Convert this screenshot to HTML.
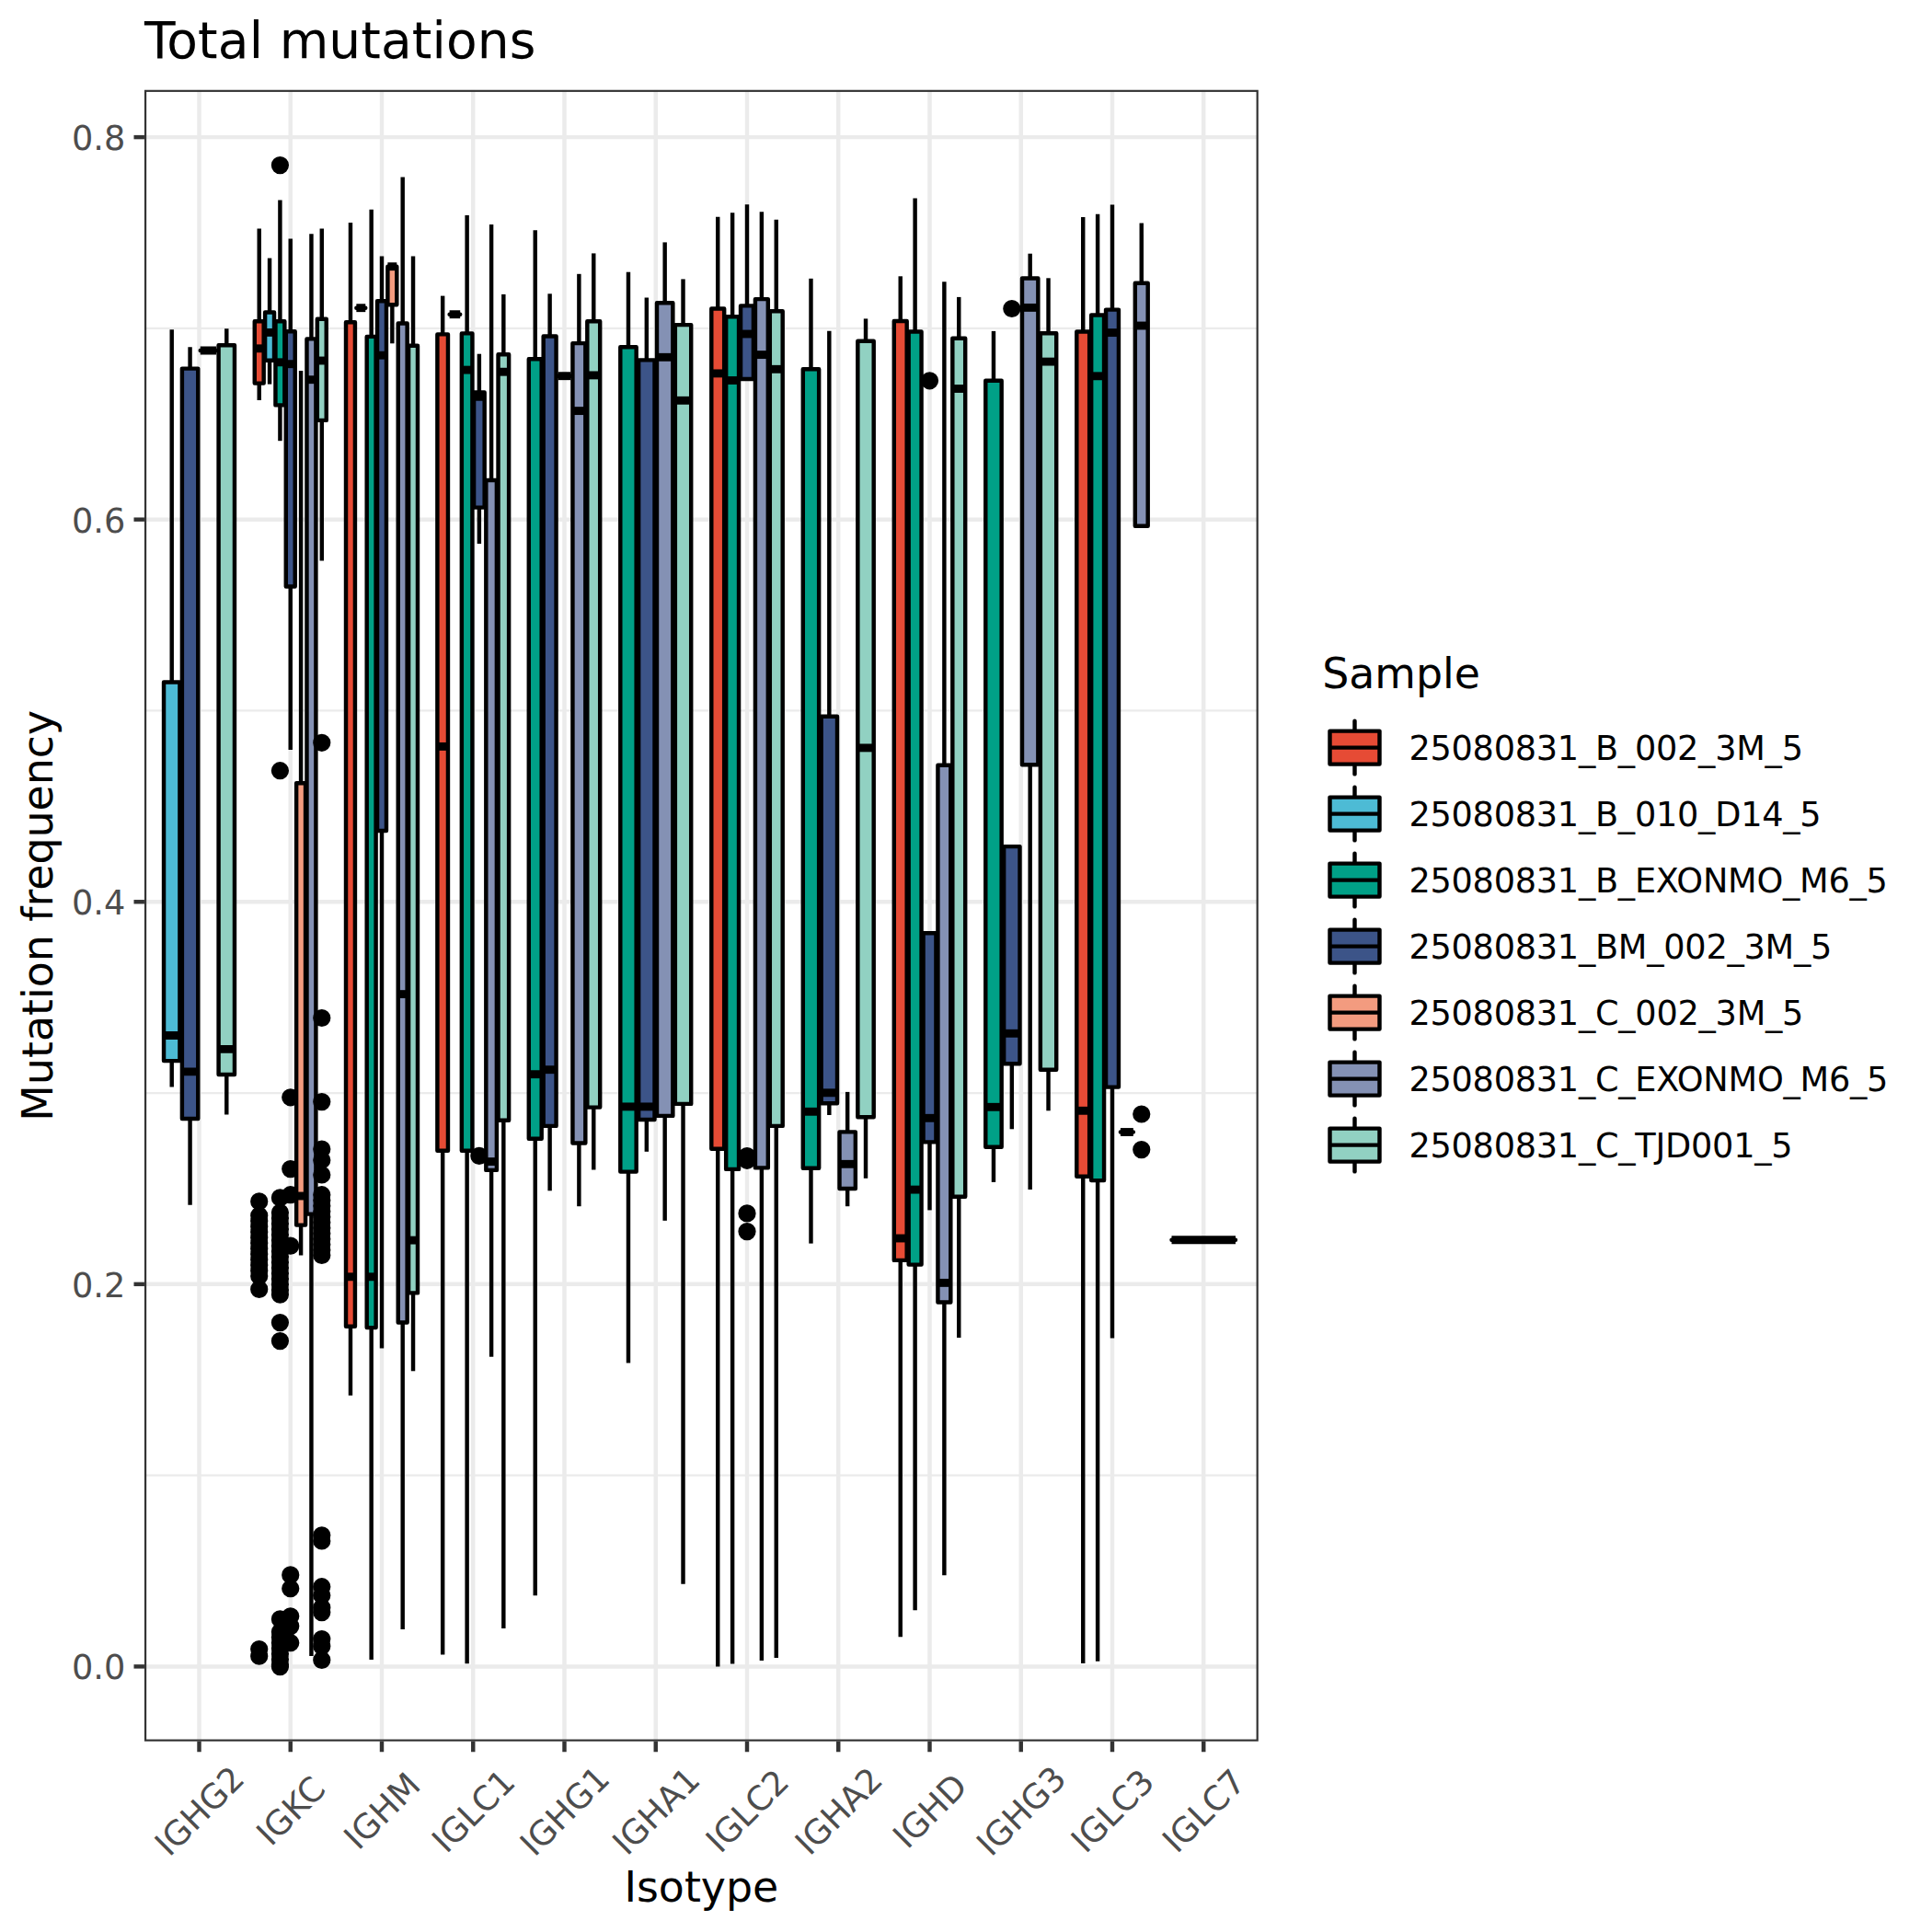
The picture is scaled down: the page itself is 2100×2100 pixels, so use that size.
<!DOCTYPE html>
<html lang="en"><head><meta charset="utf-8"><title>Total mutations</title>
<style>html,body{margin:0;padding:0;background:#fff}svg{display:block}text{font-family:"DejaVu Sans","Liberation Sans",sans-serif}</style></head><body>
<svg width="2100" height="2100" viewBox="0 0 2100 2100">
<rect width="2100" height="2100" fill="#fff"/>
<defs><clipPath id="pc"><rect x="156.95" y="97.7" width="1210.85" height="1795.1"/></clipPath></defs>
<g clip-path="url(#pc)">
<g stroke="#EBEBEB" stroke-width="2.22">
<line x1="156.95" x2="1367.8" y1="1603.63" y2="1603.63"/>
<line x1="156.95" x2="1367.8" y1="1188.05" y2="1188.05"/>
<line x1="156.95" x2="1367.8" y1="772.47" y2="772.47"/>
<line x1="156.95" x2="1367.8" y1="356.89" y2="356.89"/>
</g>
<g stroke="#EBEBEB" stroke-width="4.44">
<line x1="156.95" x2="1367.8" y1="1811.42" y2="1811.42"/>
<line x1="156.95" x2="1367.8" y1="1395.84" y2="1395.84"/>
<line x1="156.95" x2="1367.8" y1="980.26" y2="980.26"/>
<line x1="156.95" x2="1367.8" y1="564.68" y2="564.68"/>
<line x1="156.95" x2="1367.8" y1="149.1" y2="149.1"/>
<line x1="216.5" x2="216.5" y1="97.7" y2="1892.8"/>
<line x1="315.75" x2="315.75" y1="97.7" y2="1892.8"/>
<line x1="415" x2="415" y1="97.7" y2="1892.8"/>
<line x1="514.25" x2="514.25" y1="97.7" y2="1892.8"/>
<line x1="613.5" x2="613.5" y1="97.7" y2="1892.8"/>
<line x1="712.75" x2="712.75" y1="97.7" y2="1892.8"/>
<line x1="812" x2="812" y1="97.7" y2="1892.8"/>
<line x1="911.25" x2="911.25" y1="97.7" y2="1892.8"/>
<line x1="1010.5" x2="1010.5" y1="97.7" y2="1892.8"/>
<line x1="1109.75" x2="1109.75" y1="97.7" y2="1892.8"/>
<line x1="1209" x2="1209" y1="97.7" y2="1892.8"/>
<line x1="1308.25" x2="1308.25" y1="97.7" y2="1892.8"/>
</g>
<g transform="translate(0 0.3)" stroke="#000" stroke-width="4.44" stroke-linejoin="round" stroke-linecap="butt">
<g>
<line x1="186.72" x2="186.72" y1="357.9" y2="741.2"/>
<line x1="186.72" x2="186.72" y1="1152.8" y2="1181.1"/>
<rect x="178.04" y="741.2" width="17.37" height="411.6" fill="#4DBBD5"/>
<line x1="178.04" x2="195.41" y1="1125.2" y2="1125.2" stroke-width="8.88"/>
</g>
<g>
<line x1="206.57" x2="206.57" y1="377" y2="400.3"/>
<line x1="206.57" x2="206.57" y1="1215.7" y2="1309.5"/>
<rect x="197.89" y="400.3" width="17.37" height="815.4" fill="#3C5488"/>
<line x1="197.89" x2="215.26" y1="1164.6" y2="1164.6" stroke-width="8.88"/>
</g>
<g>
<line x1="217.74" x2="235.11" y1="380.7" y2="380.7" stroke-linecap="round"/>
<line x1="217.74" x2="235.11" y1="380.7" y2="380.7" stroke-width="8.88"/>
</g>
<g>
<line x1="246.28" x2="246.28" y1="356.9" y2="375"/>
<line x1="246.28" x2="246.28" y1="1167.7" y2="1211.1"/>
<rect x="237.59" y="375" width="17.37" height="792.7" fill="#91D1C2"/>
<line x1="237.59" x2="254.96" y1="1140.1" y2="1140.1" stroke-width="8.88"/>
</g>
<g>
<g fill="#000" stroke-width="2.95"><circle cx="281.72" cy="1305.6" r="8.145"/><circle cx="281.72" cy="1320.9" r="8.145"/><circle cx="281.72" cy="1326.9" r="8.145"/><circle cx="281.72" cy="1332.9" r="8.145"/><circle cx="281.72" cy="1338.9" r="8.145"/><circle cx="281.72" cy="1344.9" r="8.145"/><circle cx="281.72" cy="1350.9" r="8.145"/><circle cx="281.72" cy="1356.9" r="8.145"/><circle cx="281.72" cy="1362.9" r="8.145"/><circle cx="281.72" cy="1368.9" r="8.145"/><circle cx="281.72" cy="1374.9" r="8.145"/><circle cx="281.72" cy="1380.9" r="8.145"/><circle cx="281.72" cy="1386.7" r="8.145"/><circle cx="281.72" cy="1401.1" r="8.145"/><circle cx="281.72" cy="1792.2" r="8.145"/><circle cx="281.72" cy="1799.9" r="8.145"/></g>
<line x1="281.72" x2="281.72" y1="248.2" y2="349"/>
<line x1="281.72" x2="281.72" y1="416.3" y2="434.7"/>
<rect x="276.76" y="349" width="9.92" height="67.3" fill="#E64B35"/>
<line x1="276.76" x2="286.68" y1="378.5" y2="378.5" stroke-width="8.88"/>
</g>
<g>
<line x1="293.06" x2="293.06" y1="280.3" y2="339.2"/>
<line x1="293.06" x2="293.06" y1="391.4" y2="417.3"/>
<rect x="288.1" y="339.2" width="9.92" height="52.2" fill="#4DBBD5"/>
<line x1="288.1" x2="298.03" y1="361.1" y2="361.1" stroke-width="8.88"/>
</g>
<g>
<g fill="#000" stroke-width="2.95"><circle cx="304.41" cy="179.3" r="8.145"/><circle cx="304.41" cy="837.4" r="8.145"/><circle cx="304.41" cy="1301.6" r="8.145"/><circle cx="304.41" cy="1317.7" r="8.145"/><circle cx="304.41" cy="1323.7" r="8.145"/><circle cx="304.41" cy="1329.7" r="8.145"/><circle cx="304.41" cy="1335.7" r="8.145"/><circle cx="304.41" cy="1341.7" r="8.145"/><circle cx="304.41" cy="1347.7" r="8.145"/><circle cx="304.41" cy="1353.7" r="8.145"/><circle cx="304.41" cy="1359.7" r="8.145"/><circle cx="304.41" cy="1365.7" r="8.145"/><circle cx="304.41" cy="1371.7" r="8.145"/><circle cx="304.41" cy="1377.7" r="8.145"/><circle cx="304.41" cy="1383.7" r="8.145"/><circle cx="304.41" cy="1389.7" r="8.145"/><circle cx="304.41" cy="1395.7" r="8.145"/><circle cx="304.41" cy="1401.7" r="8.145"/><circle cx="304.41" cy="1406.8" r="8.145"/><circle cx="304.41" cy="1437.3" r="8.145"/><circle cx="304.41" cy="1457.3" r="8.145"/><circle cx="304.41" cy="1759.6" r="8.145"/><circle cx="304.41" cy="1773.5" r="8.145"/><circle cx="304.41" cy="1779.5" r="8.145"/><circle cx="304.41" cy="1785.5" r="8.145"/><circle cx="304.41" cy="1791.5" r="8.145"/><circle cx="304.41" cy="1797.5" r="8.145"/><circle cx="304.41" cy="1803.5" r="8.145"/><circle cx="304.41" cy="1809.5" r="8.145"/><circle cx="304.41" cy="1811.3" r="8.145"/></g>
<line x1="304.41" x2="304.41" y1="217.2" y2="349"/>
<line x1="304.41" x2="304.41" y1="440.1" y2="478.9"/>
<rect x="299.44" y="349" width="9.92" height="91.1" fill="#00A087"/>
<line x1="299.44" x2="309.37" y1="393.5" y2="393.5" stroke-width="8.88"/>
</g>
<g>
<g fill="#000" stroke-width="2.95"><circle cx="315.75" cy="1192.5" r="8.145"/><circle cx="315.75" cy="1270.3" r="8.145"/><circle cx="315.75" cy="1298.4" r="8.145"/><circle cx="315.75" cy="1353.8" r="8.145"/><circle cx="315.75" cy="1711.6" r="8.145"/><circle cx="315.75" cy="1726.4" r="8.145"/><circle cx="315.75" cy="1756.5" r="8.145"/><circle cx="315.75" cy="1767.3" r="8.145"/><circle cx="315.75" cy="1785.4" r="8.145"/></g>
<line x1="315.75" x2="315.75" y1="259.2" y2="359.9"/>
<line x1="315.75" x2="315.75" y1="637.2" y2="814.7"/>
<rect x="310.79" y="359.9" width="9.92" height="277.3" fill="#3C5488"/>
<line x1="310.79" x2="320.71" y1="395.4" y2="395.4" stroke-width="8.88"/>
</g>
<g>
<line x1="327.09" x2="327.09" y1="402.8" y2="850.9"/>
<line x1="327.09" x2="327.09" y1="1331.3" y2="1364.2"/>
<rect x="322.13" y="850.9" width="9.92" height="480.4" fill="#F39B7F"/>
<line x1="322.13" x2="332.06" y1="1299.7" y2="1299.7" stroke-width="8.88"/>
</g>
<g>
<line x1="338.44" x2="338.44" y1="254" y2="368.1"/>
<line x1="338.44" x2="338.44" y1="1319.3" y2="1799.7"/>
<rect x="333.47" y="368.1" width="9.92" height="951.2" fill="#8491B4"/>
<line x1="333.47" x2="343.4" y1="412.4" y2="412.4" stroke-width="8.88"/>
</g>
<g>
<g fill="#000" stroke-width="2.95"><circle cx="349.78" cy="807" r="8.145"/><circle cx="349.78" cy="1106.2" r="8.145"/><circle cx="349.78" cy="1197.3" r="8.145"/><circle cx="349.78" cy="1248.7" r="8.145"/><circle cx="349.78" cy="1260.7" r="8.145"/><circle cx="349.78" cy="1276.7" r="8.145"/><circle cx="349.78" cy="1298.4" r="8.145"/><circle cx="349.78" cy="1304.4" r="8.145"/><circle cx="349.78" cy="1310.4" r="8.145"/><circle cx="349.78" cy="1316.4" r="8.145"/><circle cx="349.78" cy="1322.4" r="8.145"/><circle cx="349.78" cy="1328.4" r="8.145"/><circle cx="349.78" cy="1334.4" r="8.145"/><circle cx="349.78" cy="1340.4" r="8.145"/><circle cx="349.78" cy="1346.4" r="8.145"/><circle cx="349.78" cy="1352.4" r="8.145"/><circle cx="349.78" cy="1358.4" r="8.145"/><circle cx="349.78" cy="1364.2" r="8.145"/><circle cx="349.78" cy="1668.5" r="8.145"/><circle cx="349.78" cy="1674.7" r="8.145"/><circle cx="349.78" cy="1724.4" r="8.145"/><circle cx="349.78" cy="1733.7" r="8.145"/><circle cx="349.78" cy="1747.1" r="8.145"/><circle cx="349.78" cy="1752.3" r="8.145"/><circle cx="349.78" cy="1781.3" r="8.145"/><circle cx="349.78" cy="1789.1" r="8.145"/><circle cx="349.78" cy="1804.1" r="8.145"/></g>
<line x1="349.78" x2="349.78" y1="248.2" y2="346.4"/>
<line x1="349.78" x2="349.78" y1="456.6" y2="609.3"/>
<rect x="344.82" y="346.4" width="9.92" height="110.2" fill="#91D1C2"/>
<line x1="344.82" x2="354.74" y1="391.7" y2="391.7" stroke-width="8.88"/>
</g>
<g>
<line x1="380.97" x2="380.97" y1="241.6" y2="350"/>
<line x1="380.97" x2="380.97" y1="1441.4" y2="1516.5"/>
<rect x="376.01" y="350" width="9.92" height="1091.4" fill="#E64B35"/>
<line x1="376.01" x2="385.93" y1="1387.5" y2="1387.5" stroke-width="8.88"/>
</g>
<g>
<line x1="387.35" x2="397.28" y1="334.4" y2="334.4" stroke-linecap="round"/>
<line x1="387.35" x2="397.28" y1="334.4" y2="334.4" stroke-width="8.88"/>
</g>
<g>
<line x1="403.66" x2="403.66" y1="227.5" y2="365.6"/>
<line x1="403.66" x2="403.66" y1="1442.8" y2="1803.7"/>
<rect x="398.69" y="365.6" width="9.92" height="1077.2" fill="#00A087"/>
<line x1="398.69" x2="408.62" y1="1387.5" y2="1387.5" stroke-width="8.88"/>
</g>
<g>
<line x1="415" x2="415" y1="278.2" y2="327"/>
<line x1="415" x2="415" y1="902.7" y2="1465.2"/>
<rect x="410.04" y="327" width="9.92" height="575.7" fill="#3C5488"/>
<line x1="410.04" x2="419.96" y1="385.9" y2="385.9" stroke-width="8.88"/>
</g>
<g>
<line x1="426.34" x2="426.34" y1="331" y2="373"/>
<rect x="421.38" y="289.4" width="9.92" height="41.6" fill="#F39B7F"/>
<line x1="421.38" x2="431.31" y1="289.4" y2="289.4" stroke-width="8.88"/>
</g>
<g>
<line x1="437.69" x2="437.69" y1="192.3" y2="351.2"/>
<line x1="437.69" x2="437.69" y1="1437.2" y2="1770.6"/>
<rect x="432.72" y="351.2" width="9.92" height="1086" fill="#8491B4"/>
<line x1="432.72" x2="442.65" y1="1080.3" y2="1080.3" stroke-width="8.88"/>
</g>
<g>
<line x1="449.03" x2="449.03" y1="278.2" y2="375.4"/>
<line x1="449.03" x2="449.03" y1="1405.1" y2="1490"/>
<rect x="444.07" y="375.4" width="9.92" height="1029.7" fill="#91D1C2"/>
<line x1="444.07" x2="453.99" y1="1347.8" y2="1347.8" stroke-width="8.88"/>
</g>
<g>
<line x1="481.17" x2="481.17" y1="321.3" y2="363.1"/>
<line x1="481.17" x2="481.17" y1="1250.5" y2="1798.1"/>
<rect x="475.38" y="363.1" width="11.58" height="887.4" fill="#E64B35"/>
<line x1="475.38" x2="486.96" y1="811.1" y2="811.1" stroke-width="8.88"/>
</g>
<g>
<line x1="488.61" x2="500.19" y1="341.4" y2="341.4" stroke-linecap="round"/>
<line x1="488.61" x2="500.19" y1="341.4" y2="341.4" stroke-width="8.88"/>
</g>
<g>
<line x1="507.63" x2="507.63" y1="233.7" y2="362.1"/>
<line x1="507.63" x2="507.63" y1="1250.5" y2="1807.9"/>
<rect x="501.84" y="362.1" width="11.58" height="888.4" fill="#00A087"/>
<line x1="501.84" x2="513.42" y1="401.8" y2="401.8" stroke-width="8.88"/>
</g>
<g>
<g fill="#000" stroke-width="2.95"><circle cx="520.87" cy="1256.1" r="8.145"/></g>
<line x1="520.87" x2="520.87" y1="384.4" y2="426.2"/>
<line x1="520.87" x2="520.87" y1="551.3" y2="590.7"/>
<rect x="515.08" y="426.2" width="11.58" height="125.1" fill="#3C5488"/>
<line x1="515.08" x2="526.66" y1="431" y2="431" stroke-width="8.88"/>
</g>
<g>
<line x1="534.1" x2="534.1" y1="243.7" y2="521.7"/>
<line x1="534.1" x2="534.1" y1="1271.6" y2="1474.5"/>
<rect x="528.31" y="521.7" width="11.58" height="749.9" fill="#8491B4"/>
<line x1="528.31" x2="539.89" y1="1262.3" y2="1262.3" stroke-width="8.88"/>
</g>
<g>
<line x1="547.33" x2="547.33" y1="319.6" y2="384.9"/>
<line x1="547.33" x2="547.33" y1="1217.4" y2="1769.8"/>
<rect x="541.54" y="384.9" width="11.58" height="832.5" fill="#91D1C2"/>
<line x1="541.54" x2="553.12" y1="403.9" y2="403.9" stroke-width="8.88"/>
</g>
<g>
<line x1="581.74" x2="581.74" y1="249.9" y2="390"/>
<line x1="581.74" x2="581.74" y1="1237.4" y2="1734"/>
<rect x="574.79" y="390" width="13.89" height="847.4" fill="#00A087"/>
<line x1="574.79" x2="588.69" y1="1167.4" y2="1167.4" stroke-width="8.88"/>
</g>
<g>
<line x1="597.62" x2="597.62" y1="319" y2="365.2"/>
<line x1="597.62" x2="597.62" y1="1223.6" y2="1294"/>
<rect x="590.67" y="365.2" width="13.89" height="858.4" fill="#3C5488"/>
<line x1="590.67" x2="604.57" y1="1162.4" y2="1162.4" stroke-width="8.88"/>
</g>
<g>
<line x1="606.55" x2="620.45" y1="408.4" y2="408.4" stroke-linecap="round"/>
<line x1="606.55" x2="620.45" y1="408.4" y2="408.4" stroke-width="8.88"/>
</g>
<g>
<line x1="629.38" x2="629.38" y1="297.5" y2="372.8"/>
<line x1="629.38" x2="629.38" y1="1242.2" y2="1310.9"/>
<rect x="622.43" y="372.8" width="13.89" height="869.4" fill="#8491B4"/>
<line x1="622.43" x2="636.33" y1="446.3" y2="446.3" stroke-width="8.88"/>
</g>
<g>
<line x1="645.26" x2="645.26" y1="275.1" y2="349"/>
<line x1="645.26" x2="645.26" y1="1203.3" y2="1271.2"/>
<rect x="638.31" y="349" width="13.89" height="854.3" fill="#91D1C2"/>
<line x1="638.31" x2="652.21" y1="407.6" y2="407.6" stroke-width="8.88"/>
</g>
<g>
<line x1="682.98" x2="682.98" y1="295.4" y2="377"/>
<line x1="682.98" x2="682.98" y1="1273.3" y2="1481.1"/>
<rect x="674.29" y="377" width="17.37" height="896.3" fill="#00A087"/>
<line x1="674.29" x2="691.66" y1="1202.6" y2="1202.6" stroke-width="8.88"/>
</g>
<g>
<line x1="702.83" x2="702.83" y1="323.2" y2="391.1"/>
<line x1="702.83" x2="702.83" y1="1216.7" y2="1251.5"/>
<rect x="694.14" y="391.1" width="17.37" height="825.6" fill="#3C5488"/>
<line x1="694.14" x2="711.51" y1="1202.6" y2="1202.6" stroke-width="8.88"/>
</g>
<g>
<line x1="722.67" x2="722.67" y1="263.1" y2="329"/>
<line x1="722.67" x2="722.67" y1="1212.6" y2="1326.5"/>
<rect x="713.99" y="329" width="17.37" height="883.6" fill="#8491B4"/>
<line x1="713.99" x2="731.36" y1="388" y2="388" stroke-width="8.88"/>
</g>
<g>
<line x1="742.52" x2="742.52" y1="303.1" y2="352.8"/>
<line x1="742.52" x2="742.52" y1="1199.6" y2="1721.5"/>
<rect x="733.84" y="352.8" width="17.37" height="846.8" fill="#91D1C2"/>
<line x1="733.84" x2="751.21" y1="435" y2="435" stroke-width="8.88"/>
</g>
<g>
<line x1="780.24" x2="780.24" y1="235.4" y2="335.2"/>
<line x1="780.24" x2="780.24" y1="1248.4" y2="1811.2"/>
<rect x="773.29" y="335.2" width="13.89" height="913.2" fill="#E64B35"/>
<line x1="773.29" x2="787.19" y1="405.6" y2="405.6" stroke-width="8.88"/>
</g>
<g>
<line x1="796.12" x2="796.12" y1="231" y2="343.9"/>
<line x1="796.12" x2="796.12" y1="1270.6" y2="1808.1"/>
<rect x="789.17" y="343.9" width="13.89" height="926.7" fill="#00A087"/>
<line x1="789.17" x2="803.07" y1="413.2" y2="413.2" stroke-width="8.88"/>
</g>
<g>
<g fill="#000" stroke-width="2.95"><circle cx="812" cy="1256.2" r="8.145"/><circle cx="812" cy="1261" r="8.145"/><circle cx="812" cy="1318.6" r="8.145"/><circle cx="812" cy="1338.3" r="8.145"/></g>
<line x1="812" x2="812" y1="221.9" y2="332.1"/>
<rect x="805.05" y="332.1" width="13.89" height="79.6" fill="#3C5488"/>
<line x1="805.05" x2="818.95" y1="362.7" y2="362.7" stroke-width="8.88"/>
</g>
<g>
<line x1="827.88" x2="827.88" y1="230" y2="324.8"/>
<line x1="827.88" x2="827.88" y1="1269.1" y2="1804.8"/>
<rect x="820.93" y="324.8" width="13.89" height="944.3" fill="#8491B4"/>
<line x1="820.93" x2="834.83" y1="385.3" y2="385.3" stroke-width="8.88"/>
</g>
<g>
<line x1="843.76" x2="843.76" y1="238.5" y2="337.9"/>
<line x1="843.76" x2="843.76" y1="1223.6" y2="1801.7"/>
<rect x="836.81" y="337.9" width="13.89" height="885.7" fill="#91D1C2"/>
<line x1="836.81" x2="850.71" y1="401" y2="401" stroke-width="8.88"/>
</g>
<g>
<line x1="881.48" x2="881.48" y1="302.5" y2="401"/>
<line x1="881.48" x2="881.48" y1="1269.5" y2="1351.3"/>
<rect x="872.79" y="401" width="17.37" height="868.5" fill="#00A087"/>
<line x1="872.79" x2="890.16" y1="1208" y2="1208" stroke-width="8.88"/>
</g>
<g>
<line x1="901.33" x2="901.33" y1="359.4" y2="778.4"/>
<line x1="901.33" x2="901.33" y1="1199" y2="1211.7"/>
<rect x="892.64" y="778.4" width="17.37" height="420.6" fill="#3C5488"/>
<line x1="892.64" x2="910.01" y1="1187.5" y2="1187.5" stroke-width="8.88"/>
</g>
<g>
<line x1="921.17" x2="921.17" y1="1186.6" y2="1230.1"/>
<line x1="921.17" x2="921.17" y1="1291.7" y2="1310.9"/>
<rect x="912.49" y="1230.1" width="17.37" height="61.6" fill="#8491B4"/>
<line x1="912.49" x2="929.86" y1="1265" y2="1265" stroke-width="8.88"/>
</g>
<g>
<line x1="941.02" x2="941.02" y1="346.1" y2="370.4"/>
<line x1="941.02" x2="941.02" y1="1214" y2="1280.5"/>
<rect x="932.34" y="370.4" width="17.37" height="843.6" fill="#91D1C2"/>
<line x1="932.34" x2="949.71" y1="812.6" y2="812.6" stroke-width="8.88"/>
</g>
<g>
<line x1="978.74" x2="978.74" y1="300" y2="348.7"/>
<line x1="978.74" x2="978.74" y1="1369.6" y2="1778.9"/>
<rect x="971.79" y="348.7" width="13.89" height="1020.9" fill="#E64B35"/>
<line x1="971.79" x2="985.69" y1="1345.7" y2="1345.7" stroke-width="8.88"/>
</g>
<g>
<line x1="994.62" x2="994.62" y1="215.2" y2="360.2"/>
<line x1="994.62" x2="994.62" y1="1374.3" y2="1750"/>
<rect x="987.67" y="360.2" width="13.89" height="1014.1" fill="#00A087"/>
<line x1="987.67" x2="1001.57" y1="1292.8" y2="1292.8" stroke-width="8.88"/>
</g>
<g>
<g fill="#000" stroke-width="2.95"><circle cx="1010.5" cy="413.5" r="8.145"/></g>
<line x1="1010.5" x2="1010.5" y1="1241.1" y2="1315.1"/>
<rect x="1003.55" y="1013.9" width="13.89" height="227.2" fill="#3C5488"/>
<line x1="1003.55" x2="1017.45" y1="1215" y2="1215" stroke-width="8.88"/>
</g>
<g>
<line x1="1026.38" x2="1026.38" y1="305.9" y2="831.5"/>
<line x1="1026.38" x2="1026.38" y1="1415.2" y2="1712"/>
<rect x="1019.43" y="831.5" width="13.89" height="583.7" fill="#8491B4"/>
<line x1="1019.43" x2="1033.33" y1="1394.1" y2="1394.1" stroke-width="8.88"/>
</g>
<g>
<line x1="1042.26" x2="1042.26" y1="322.6" y2="367.4"/>
<line x1="1042.26" x2="1042.26" y1="1300.4" y2="1453.7"/>
<rect x="1035.31" y="367.4" width="13.89" height="933" fill="#91D1C2"/>
<line x1="1035.31" x2="1049.21" y1="422.2" y2="422.2" stroke-width="8.88"/>
</g>
<g>
<line x1="1079.97" x2="1079.97" y1="359.6" y2="413.5"/>
<line x1="1079.97" x2="1079.97" y1="1246.5" y2="1284.6"/>
<rect x="1071.29" y="413.5" width="17.37" height="833" fill="#00A087"/>
<line x1="1071.29" x2="1088.66" y1="1203" y2="1203" stroke-width="8.88"/>
</g>
<g>
<g fill="#000" stroke-width="2.95"><circle cx="1099.83" cy="335.2" r="8.145"/></g>
<line x1="1099.83" x2="1099.83" y1="1155.9" y2="1227"/>
<rect x="1091.14" y="919.8" width="17.37" height="236.1" fill="#3C5488"/>
<line x1="1091.14" x2="1108.51" y1="1123" y2="1123" stroke-width="8.88"/>
</g>
<g>
<line x1="1119.67" x2="1119.67" y1="275.4" y2="302.2"/>
<line x1="1119.67" x2="1119.67" y1="830.9" y2="1292.6"/>
<rect x="1110.99" y="302.2" width="17.37" height="528.7" fill="#8491B4"/>
<line x1="1110.99" x2="1128.36" y1="334.1" y2="334.1" stroke-width="8.88"/>
</g>
<g>
<line x1="1139.53" x2="1139.53" y1="302" y2="362"/>
<line x1="1139.53" x2="1139.53" y1="1162.4" y2="1207"/>
<rect x="1130.84" y="362" width="17.37" height="800.4" fill="#91D1C2"/>
<line x1="1130.84" x2="1148.21" y1="392.8" y2="392.8" stroke-width="8.88"/>
</g>
<g>
<line x1="1177.24" x2="1177.24" y1="235.7" y2="360.2"/>
<line x1="1177.24" x2="1177.24" y1="1278.5" y2="1807.8"/>
<rect x="1170.29" y="360.2" width="13.89" height="918.3" fill="#E64B35"/>
<line x1="1170.29" x2="1184.19" y1="1207" y2="1207" stroke-width="8.88"/>
</g>
<g>
<line x1="1193.12" x2="1193.12" y1="232.4" y2="342.2"/>
<line x1="1193.12" x2="1193.12" y1="1282.8" y2="1805.4"/>
<rect x="1186.17" y="342.2" width="13.89" height="940.6" fill="#00A087"/>
<line x1="1186.17" x2="1200.07" y1="408.5" y2="408.5" stroke-width="8.88"/>
</g>
<g>
<line x1="1209" x2="1209" y1="222.2" y2="336.3"/>
<line x1="1209" x2="1209" y1="1181.3" y2="1454.3"/>
<rect x="1202.05" y="336.3" width="13.89" height="845" fill="#3C5488"/>
<line x1="1202.05" x2="1215.95" y1="361.3" y2="361.3" stroke-width="8.88"/>
</g>
<g>
<line x1="1217.93" x2="1231.83" y1="1230.2" y2="1230.2" stroke-linecap="round"/>
<line x1="1217.93" x2="1231.83" y1="1230.2" y2="1230.2" stroke-width="8.88"/>
</g>
<g>
<g fill="#000" stroke-width="2.95"><circle cx="1240.76" cy="1210.7" r="8.145"/><circle cx="1240.76" cy="1249.3" r="8.145"/></g>
<line x1="1240.76" x2="1240.76" y1="242.2" y2="307.4"/>
<rect x="1233.81" y="307.4" width="13.89" height="264.1" fill="#8491B4"/>
<line x1="1233.81" x2="1247.71" y1="353.7" y2="353.7" stroke-width="8.88"/>
</g>
<g>
<line x1="1273.51" x2="1342.99" y1="1347.5" y2="1347.5" stroke-linecap="round"/>
<line x1="1273.51" x2="1342.99" y1="1347.5" y2="1347.5" stroke-width="8.88"/>
</g>
</g>
<rect x="156.95" y="97.7" width="1210.85" height="1795.1" fill="none" stroke="#333333" stroke-width="4.44"/>
</g>
<g stroke="#333333" stroke-width="4.44">
<line x1="145.49" x2="156.95" y1="1811.42" y2="1811.42"/>
<line x1="145.49" x2="156.95" y1="1395.84" y2="1395.84"/>
<line x1="145.49" x2="156.95" y1="980.26" y2="980.26"/>
<line x1="145.49" x2="156.95" y1="564.68" y2="564.68"/>
<line x1="145.49" x2="156.95" y1="149.1" y2="149.1"/>
<line x1="216.5" x2="216.5" y1="1892.8" y2="1904.26"/>
<line x1="315.75" x2="315.75" y1="1892.8" y2="1904.26"/>
<line x1="415" x2="415" y1="1892.8" y2="1904.26"/>
<line x1="514.25" x2="514.25" y1="1892.8" y2="1904.26"/>
<line x1="613.5" x2="613.5" y1="1892.8" y2="1904.26"/>
<line x1="712.75" x2="712.75" y1="1892.8" y2="1904.26"/>
<line x1="812" x2="812" y1="1892.8" y2="1904.26"/>
<line x1="911.25" x2="911.25" y1="1892.8" y2="1904.26"/>
<line x1="1010.5" x2="1010.5" y1="1892.8" y2="1904.26"/>
<line x1="1109.75" x2="1109.75" y1="1892.8" y2="1904.26"/>
<line x1="1209" x2="1209" y1="1892.8" y2="1904.26"/>
<line x1="1308.25" x2="1308.25" y1="1892.8" y2="1904.26"/>
</g>
<g font-size="36.67" fill="#4D4D4D">
<text x="136.3" y="1825.32" text-anchor="end">0.0</text>
<text x="136.3" y="1409.74" text-anchor="end">0.2</text>
<text x="136.3" y="994.16" text-anchor="end">0.4</text>
<text x="136.3" y="578.58" text-anchor="end">0.6</text>
<text x="136.3" y="163" text-anchor="end">0.8</text>
<text transform="translate(216.5 1968) rotate(-45)" y="13.3" text-anchor="middle">IGHG2</text>
<text transform="translate(315.75 1968) rotate(-45)" y="13.3" text-anchor="middle">IGKC</text>
<text transform="translate(415 1968) rotate(-45)" y="13.3" text-anchor="middle">IGHM</text>
<text transform="translate(514.25 1968) rotate(-45)" y="13.3" text-anchor="middle">IGLC1</text>
<text transform="translate(613.5 1968) rotate(-45)" y="13.3" text-anchor="middle">IGHG1</text>
<text transform="translate(712.75 1968) rotate(-45)" y="13.3" text-anchor="middle">IGHA1</text>
<text transform="translate(812 1968) rotate(-45)" y="13.3" text-anchor="middle">IGLC2</text>
<text transform="translate(911.25 1968) rotate(-45)" y="13.3" text-anchor="middle">IGHA2</text>
<text transform="translate(1010.5 1968) rotate(-45)" y="13.3" text-anchor="middle">IGHD</text>
<text transform="translate(1109.75 1968) rotate(-45)" y="13.3" text-anchor="middle">IGHG3</text>
<text transform="translate(1209 1968) rotate(-45)" y="13.3" text-anchor="middle">IGLC3</text>
<text transform="translate(1308.25 1968) rotate(-45)" y="13.3" text-anchor="middle">IGLC7</text>
</g>
<text x="156.95" y="63.4" font-size="55" letter-spacing="0.13" fill="#000">Total mutations</text>
<text x="762.38" y="2067" font-size="45.83" text-anchor="middle" fill="#000">Isotype</text>
<text transform="translate(56.8 995.25) rotate(-90)" font-size="45.83" text-anchor="middle" fill="#000">Mutation frequency</text>
<text x="1437.2" y="748.1" font-size="45.83" fill="#000">Sample</text>
<g stroke="#000" stroke-width="4.44" stroke-linejoin="round" stroke-linecap="round">
<line x1="1472.5" x2="1472.5" y1="783.8" y2="794.6"/>
<line x1="1472.5" x2="1472.5" y1="830.6" y2="841.4"/>
<rect x="1445.5" y="794.6" width="54" height="36" fill="#E64B35"/>
<line x1="1445.5" x2="1499.5" y1="812.6" y2="812.6" stroke-linecap="butt"/>
<line x1="1472.5" x2="1472.5" y1="855.8" y2="866.6"/>
<line x1="1472.5" x2="1472.5" y1="902.6" y2="913.4"/>
<rect x="1445.5" y="866.6" width="54" height="36" fill="#4DBBD5"/>
<line x1="1445.5" x2="1499.5" y1="884.6" y2="884.6" stroke-linecap="butt"/>
<line x1="1472.5" x2="1472.5" y1="927.8" y2="938.6"/>
<line x1="1472.5" x2="1472.5" y1="974.6" y2="985.4"/>
<rect x="1445.5" y="938.6" width="54" height="36" fill="#00A087"/>
<line x1="1445.5" x2="1499.5" y1="956.6" y2="956.6" stroke-linecap="butt"/>
<line x1="1472.5" x2="1472.5" y1="999.8" y2="1010.6"/>
<line x1="1472.5" x2="1472.5" y1="1046.6" y2="1057.4"/>
<rect x="1445.5" y="1010.6" width="54" height="36" fill="#3C5488"/>
<line x1="1445.5" x2="1499.5" y1="1028.6" y2="1028.6" stroke-linecap="butt"/>
<line x1="1472.5" x2="1472.5" y1="1071.8" y2="1082.6"/>
<line x1="1472.5" x2="1472.5" y1="1118.6" y2="1129.4"/>
<rect x="1445.5" y="1082.6" width="54" height="36" fill="#F39B7F"/>
<line x1="1445.5" x2="1499.5" y1="1100.6" y2="1100.6" stroke-linecap="butt"/>
<line x1="1472.5" x2="1472.5" y1="1143.8" y2="1154.6"/>
<line x1="1472.5" x2="1472.5" y1="1190.6" y2="1201.4"/>
<rect x="1445.5" y="1154.6" width="54" height="36" fill="#8491B4"/>
<line x1="1445.5" x2="1499.5" y1="1172.6" y2="1172.6" stroke-linecap="butt"/>
<line x1="1472.5" x2="1472.5" y1="1215.8" y2="1226.6"/>
<line x1="1472.5" x2="1472.5" y1="1262.6" y2="1273.4"/>
<rect x="1445.5" y="1226.6" width="54" height="36" fill="#91D1C2"/>
<line x1="1445.5" x2="1499.5" y1="1244.6" y2="1244.6" stroke-linecap="butt"/>
</g>
<g font-size="36.67" fill="#000" letter-spacing="-0.26">
<text x="1531.4" y="825.7">25080831_B_002_3M_5</text>
<text x="1531.4" y="897.8">25080831_B_010_D14_5</text>
<text x="1531.4" y="969.9">25080831_B_EXONMO_M6_5</text>
<text x="1531.4" y="1042">25080831_BM_002_3M_5</text>
<text x="1531.4" y="1114.1">25080831_C_002_3M_5</text>
<text x="1531.4" y="1186.2">25080831_C_EXONMO_M6_5</text>
<text x="1531.4" y="1258.3">25080831_C_TJD001_5</text>
</g>
</svg></body></html>
